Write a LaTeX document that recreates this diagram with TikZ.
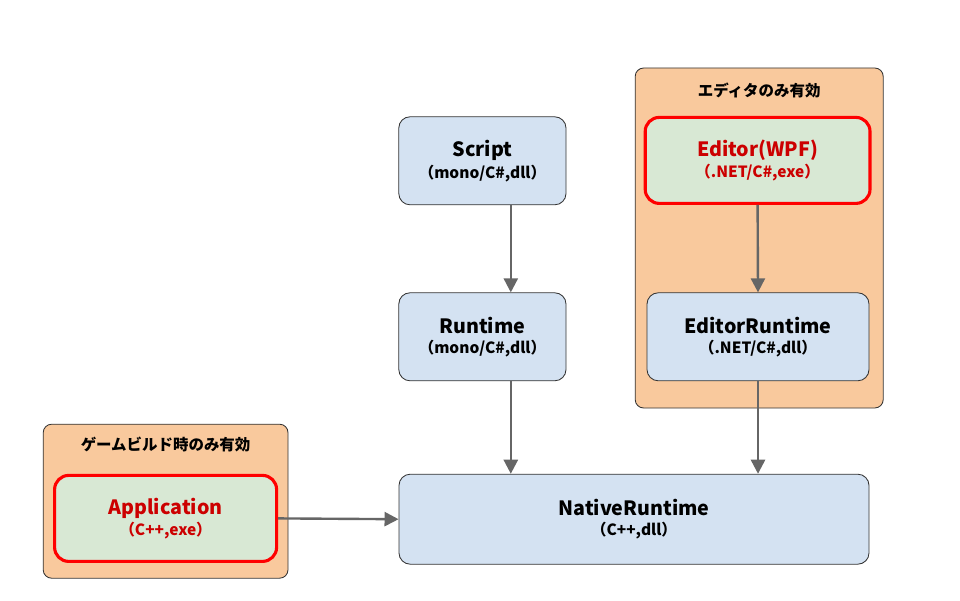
\documentclass[tikz,border=0pt]{standalone}
\usepackage{fontspec}
\setmainfont{Noto Sans CJK JP}
\usetikzlibrary{positioning,arrows.meta}
\definecolor{boxblue}{HTML}{D4E2F2}
\definecolor{boxgreen}{HTML}{D8E8D4}
\definecolor{grporange}{HTML}{F9C99D}
\definecolor{darkred}{HTML}{CC0000}
\definecolor{arrgray}{HTML}{666666}

\begin{document}
\begin{tikzpicture}[
        module/.style={rectangle, rounded corners=8pt, draw=black!80, line width=0.6pt, fill=boxblue, text=black, align=center, minimum height=2.2cm, inner sep=0pt},
        entry/.style={rectangle, rounded corners=10pt, draw=red, line width=2.2pt, fill=boxgreen, text=darkred, align=center, minimum width=5.55cm, minimum height=2.15cm, inner sep=0pt},
        group/.style={rectangle, rounded corners=6pt, draw=black!80, line width=0.6pt, fill=grporange},
        grouplabel/.style={font=\fontsize{11}{13}\selectfont\bfseries},
        link/.style={-{Triangle[length=10pt,width=10pt]}, draw=arrgray, line width=1.7pt}
    ]
    \useasboundingbox (0,0) rectangle (24,15);

    % groups
    \node[group, minimum width=6.2cm, minimum height=8.5cm] (EditorOnly) at (18.98,9.05) {};
    \node[grouplabel] (EditorOnlyLabel) at (18.98,12.75) {エディタのみ有効};
    \node[group, minimum width=6.12cm, minimum height=3.85cm] (GameOnly) at (4.14,2.47) {};
    \node[grouplabel] (GameOnlyLabel) at (4.14,3.88) {ゲームビルド時のみ有効};

    % modules
    \node[module, minimum width=4.18cm] (Script) at (12.06,10.98)
        {{\fontsize{14}{17}\selectfont\bfseries Script}\\[2pt]{\fontsize{11}{13}\selectfont\bfseries （mono/C\#,dll）}};
    \node[module, minimum width=4.18cm] (Runtime) at (12.06,6.58)
        {{\fontsize{14}{17}\selectfont\bfseries Runtime}\\[2pt]{\fontsize{11}{13}\selectfont\bfseries （mono/C\#,dll）}};
    \node[module, minimum width=5.55cm] (EditorRuntime) at (18.95,6.58)
        {{\fontsize{14}{17}\selectfont\bfseries EditorRuntime}\\[2pt]{\fontsize{11}{13}\selectfont\bfseries （.NET/C\#,dll）}};
    \node[module, minimum width=11.75cm, minimum height=2.25cm] (NativeRuntime) at (15.85,2.02)
        {{\fontsize{14}{17}\selectfont\bfseries NativeRuntime}\\[2pt]{\fontsize{11}{13}\selectfont\bfseries （C++,dll）}};

    % entry points
    \node[entry, minimum width=5.62cm] (Editor) at (18.94,10.99)
        {{\fontsize{14}{17}\selectfont\bfseries Editor(WPF)}\\[2pt]{\fontsize{11}{13}\selectfont\bfseries （.NET/C\#,exe）}};
    \node[entry] (Application) at (4.14,2.04)
        {{\fontsize{14}{17}\selectfont\bfseries Application}\\[2pt]{\fontsize{11}{13}\selectfont\bfseries （C++,exe）}};

    % references
    \coordinate (monoLine) at ([xshift=0.71cm]Runtime.south);
    \draw[link] ([xshift=0.71cm]Script.south) -- ([xshift=0.71cm]Runtime.north);
    \draw[link] (monoLine) -- (NativeRuntime.north -| monoLine);
    \draw[link] (Editor.south) -- (EditorRuntime.north);
    \draw[link] (EditorRuntime.south) -- (NativeRuntime.north -| EditorRuntime.south);
    \draw[link] (Application.east) -- (NativeRuntime.west);
\end{tikzpicture}
\end{document}
